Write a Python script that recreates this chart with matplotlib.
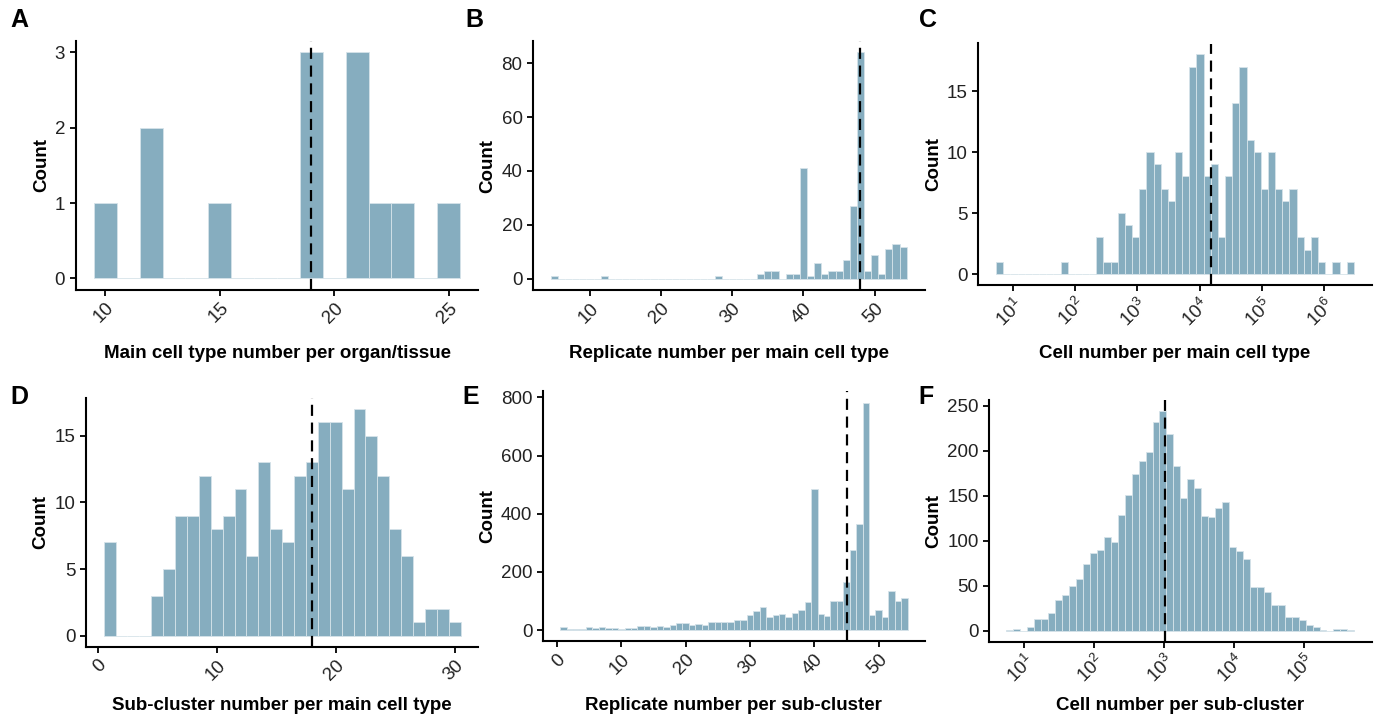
import numpy as np
import matplotlib
matplotlib.use("Agg")
import matplotlib.pyplot as plt

plt.rcParams['font.family'] = ['Liberation Sans', 'DejaVu Sans']
plt.rcParams['mathtext.fontset'] = 'custom'
plt.rcParams['mathtext.rm'] = 'Liberation Sans'
plt.rcParams['mathtext.it'] = 'Liberation Sans:italic'
plt.rcParams['mathtext.bf'] = 'Liberation Sans:bold'
plt.rcParams['mathtext.default'] = 'regular'

FILL = "#86adbf"
EDGE = "#d6e3e9"

# A: main cell type number per organ/tissue (bins of width 1)
a_bins = list(range(10, 26))
a_counts = [1, 0, 2, 0, 0, 1, 0, 0, 0, 3, 0, 3, 1, 1, 0, 1]
a_median = 19

# B: replicate number per main cell type
b_bins = list(range(5, 55))
b_counts = [1, 0, 0, 0, 0, 0, 0, 1, 0, 0,
            0, 0, 0, 0, 0, 0, 0, 0, 0, 0,
            0, 0, 0, 1, 0, 0, 0, 0, 0, 2,
            3, 3, 0, 2, 2, 41, 1, 6, 2, 3,
            3, 7, 27, 84, 3, 9, 2, 11, 13, 12]
b_median = 48

# C: cell number per main cell type (50 bins on log10 scale)
c_log_start = 0.732
c_log_width = 0.1149
c_counts = [1, 0, 0, 0, 0, 0, 0, 0, 0, 1,
            0, 0, 0, 0, 3, 1, 1, 5, 4, 3,
            7, 10, 9, 7, 6, 10, 8, 17, 18, 8,
            9, 3, 8, 14, 17, 11, 10, 7, 10, 7,
            6, 7, 3, 2, 3, 1, 0, 1, 0, 1]
c_median = 15000

# D: sub-cluster number per main cell type
d_bins = list(range(1, 31))
d_counts = [7, 0, 0, 0, 3, 5, 9, 9, 12, 8,
            9, 11, 6, 13, 8, 7, 12, 13, 16, 16,
            11, 17, 15, 12, 8, 6, 1, 2, 2, 1]
d_median = 18

# E: replicate number per sub-cluster
e_bins = list(range(1, 55))
e_counts = [9, 4, 3, 5, 9, 8, 11, 7, 6, 4,
            7, 8, 14, 14, 10, 14, 12, 18, 24, 24,
            18, 20, 18, 27, 28, 26, 28, 36, 34, 50,
            65, 80, 46, 50, 54, 46, 57, 69, 97, 486,
            54, 49, 99, 99, 164, 275, 363, 782, 50, 68,
            46, 134, 100, 109]
e_median = 45

# F: cell number per sub-cluster (50 bins on log10 scale)
f_log_start = 0.746
f_log_width = 0.0994
f_counts = [1, 2, 0, 4, 13, 13, 20, 34, 40, 50,
            57, 74, 86, 90, 104, 98, 129, 151, 174, 188,
            199, 232, 244, 219, 183, 147, 168, 158, 127, 126,
            136, 143, 93, 89, 80, 49, 49, 43, 29, 28,
            15, 15, 12, 6, 4, 1, 0, 2, 2, 1]
f_median = 1020

W, H = 1377, 717
fig = plt.figure(figsize=(W / 100, H / 100), dpi=100)


def add_ax(x0, x1, y0, y1):
    ax = fig.add_axes([x0 / W, 1 - y1 / H, (x1 - x0) / W, (y1 - y0) / H])
    ax.px_box = (x0, x1, y0, y1)
    return ax


def style(ax, xlabel, ylab_x, xlab_y):
    x0, x1, y0, y1 = ax.px_box
    for s in ("top", "right"):
        ax.spines[s].set_visible(False)
    for s in ("left", "bottom"):
        ax.spines[s].set_linewidth(1.5)
    ax.tick_params(axis="both", length=4, width=1.3, labelsize=13.5,
                   colors="black", labelcolor="#222222")
    ax.tick_params(axis="x", pad=3)
    ax.tick_params(axis="x", which="minor", length=0)
    for lab in ax.get_xticklabels():
        lab.set_rotation(45)
        lab.set_ha("right")
        lab.set_va("top")
        lab.set_rotation_mode("anchor")
    ax.set_ylabel("Count", fontsize=13.5, fontweight="bold", va="center")
    ax.yaxis.set_label_coords((ylab_x - x0) / (x1 - x0), 0.5)
    ax.set_xlabel(xlabel, fontsize=13.5, fontweight="bold", va="center")
    ax.xaxis.set_label_coords(0.5, (y1 - xlab_y) / (y1 - y0))


def lin_hist(ax, bins, counts, median):
    ax.bar(bins, counts, width=1.0, color=FILL, edgecolor=EDGE, linewidth=0.6, zorder=2)
    ax.axvline(median, color="black", ls=(0, (5, 3)), lw=1.6, zorder=3)
    lo, hi = bins[0] - 0.5, bins[-1] + 0.5
    pad = (hi - lo) * 0.05
    ax.set_xlim(lo - pad, hi + pad)
    top = max(counts)
    ax.set_ylim(-0.05 * top, 1.05 * top)


def log_hist(ax, start, width, counts, median, decades):
    k = np.arange(len(counts))
    left = 10 ** (start + k * width)
    right = 10 ** (start + (k + 1) * width)
    ax.set_xscale("log")
    ax.bar(left, counts, width=right - left, align="edge", color=FILL,
           edgecolor=EDGE, linewidth=0.6, zorder=2)
    ax.axvline(median, color="black", ls=(0, (5, 3)), lw=1.6, zorder=3)
    lo, hi = start, start + len(counts) * width
    pad = (hi - lo) * 0.05
    ax.set_xlim(10 ** (lo - pad), 10 ** (hi + pad))
    top = max(counts)
    ax.set_ylim(-0.05 * top, 1.05 * top)
    ax.set_xticks([10.0 ** d for d in decades])
    ax.set_xticklabels([r"$10^{%d}$" % d for d in decades])
    ax.minorticks_off()


# A
ax = add_ax(75.6, 478.4, 40.8, 289.8)
lin_hist(ax, a_bins, a_counts, a_median)
ax.set_xticks([10, 15, 20, 25])
ax.set_yticks([0, 1, 2, 3])
style(ax, "Main cell type number per organ/tissue", 42, 353)

# B
ax = add_ax(533, 924.5, 40.9, 290.3)
lin_hist(ax, b_bins, b_counts, b_median)
ax.set_xticks([10, 20, 30, 40, 50])
ax.set_yticks([0, 20, 40, 60, 80])
style(ax, "Replicate number per main cell type", 488, 353)

# C
ax = add_ax(978.3, 1371.7, 43.5, 285)
log_hist(ax, c_log_start, c_log_width, c_counts, c_median, range(1, 7))
ax.set_yticks([0, 5, 10, 15])
style(ax, "Cell number per main cell type", 934, 353)

# D
ax = add_ax(85.8, 478.5, 397.7, 647)
lin_hist(ax, d_bins, d_counts, d_median)
ax.set_xticks([0, 10, 20, 30])
ax.set_yticks([0, 5, 10, 15])
style(ax, "Sub-cluster number per main cell type", 41, 705)

# E
ax = add_ax(542.8, 925, 391.2, 641.4)
lin_hist(ax, e_bins, e_counts, e_median)
ax.set_xticks([0, 10, 20, 30, 40, 50])
ax.set_yticks([0, 200, 400, 600, 800])
style(ax, "Replicate number per sub-cluster", 488, 705)

# F
ax = add_ax(989, 1371.7, 400.1, 641.6)
log_hist(ax, f_log_start, f_log_width, f_counts, f_median, range(1, 6))
ax.set_yticks([0, 50, 100, 150, 200, 250])
style(ax, "Cell number per sub-cluster", 934, 705)

for letter, x, y in [("A", 19, 20), ("B", 474, 20), ("C", 928, 20),
                     ("D", 19, 397), ("E", 471, 397), ("F", 926, 397)]:
    fig.text(x / W, 1 - y / H, letter, fontsize=18, fontweight="bold",
             ha="center", va="center")

fig.savefig("out.png", dpi=100, facecolor="white")
